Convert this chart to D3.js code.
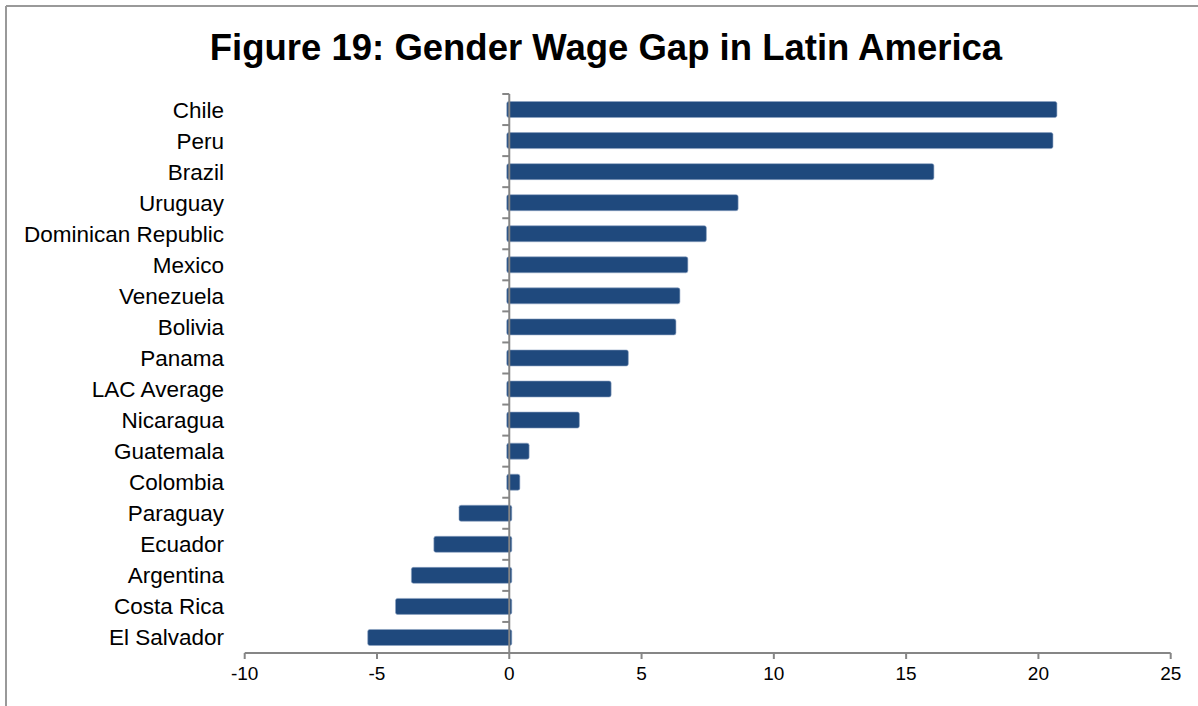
<!DOCTYPE html>
<html>
<head>
<meta charset="utf-8">
<script src="https://cdn.jsdelivr.net/npm/d3@7"></script>
<style>
  html, body { margin: 0; padding: 0; background: #fff; }
  svg { display: block; }
</style>
</head>
<body>
<svg id="chart" width="1198" height="706"></svg>
<script>
const title = "Figure 19: Gender Wage Gap in Latin America";
const categories = ["Chile", "Peru", "Brazil", "Uruguay", "Dominican Republic", "Mexico",
  "Venezuela", "Bolivia", "Panama", "LAC Average", "Nicaragua", "Guatemala", "Colombia",
  "Paraguay", "Ecuador", "Argentina", "Costa Rica", "El Salvador"];
const values = [20.7, 20.55, 16.05, 8.65, 7.45, 6.75, 6.45, 6.3, 4.5, 3.85, 2.65, 0.75, 0.4,
  -1.9, -2.85, -3.7, -4.3, -5.35];
const xTicks = [-10, -5, 0, 5, 10, 15, 20, 25];

const svg = d3.select("#chart");
const axisColor = "#868686";
const barColor = "#1F497D";
const fontFamily = "'Liberation Sans', Arial, sans-serif";

// outer frame (top and left visible)
svg.append("line").attr("x1", 6).attr("x2", 1198).attr("y1", 6).attr("y2", 6)
  .attr("stroke", "#999").attr("stroke-width", 2);
svg.append("line").attr("x1", 6).attr("x2", 6).attr("y1", 6).attr("y2", 706)
  .attr("stroke", "#999").attr("stroke-width", 2);

// title
svg.append("text")
  .attr("x", 606).attr("y", 60)
  .attr("text-anchor", "middle")
  .attr("font-family", fontFamily)
  .attr("font-weight", "bold")
  .attr("font-size", 36.5)
  .attr("fill", "#000")
  .text(title);

const x = d3.scaleLinear().domain([-10, 25]).range([244.7, 1170.7]);
const y = d3.scaleBand().domain(categories).range([94, 653])
  .paddingInner(0.485).paddingOuter(0.2425);

// bars (slightly overlap the zero line, as in the source)
const overlap = 2.5;
svg.append("g").selectAll("rect")
  .data(categories.map((c, i) => ({ c, v: values[i] })))
  .join("rect")
  .attr("x", d => x(Math.min(0, d.v)) - (d.v >= 0 ? overlap : 0))
  .attr("width", d => Math.abs(x(d.v) - x(0)) + overlap)
  .attr("y", d => y(d.c))
  .attr("height", y.bandwidth())
  .attr("rx", 2)
  .attr("fill", barColor)
  .attr("stroke", "#8da3c2")
  .attr("stroke-width", 0.6);

// x axis
const xAxisY = 653;
const xa = svg.append("g");
xa.append("line").attr("x1", x(-10)).attr("x2", x(25)).attr("y1", xAxisY).attr("y2", xAxisY)
  .attr("stroke", axisColor).attr("stroke-width", 2);
xa.selectAll("line.tick").data(xTicks).join("line").attr("class", "tick")
  .attr("x1", d => x(d)).attr("x2", d => x(d))
  .attr("y1", xAxisY).attr("y2", xAxisY + 6)
  .attr("stroke", axisColor).attr("stroke-width", 2);
xa.selectAll("text").data(xTicks).join("text")
  .attr("x", d => x(d)).attr("y", 680)
  .attr("text-anchor", "middle")
  .attr("font-family", fontFamily)
  .attr("font-size", 19)
  .attr("fill", "#000")
  .text(d => d);

// y axis at zero
const ya = svg.append("g");
const x0 = x(0);
ya.append("line").attr("x1", x0).attr("x2", x0).attr("y1", 94).attr("y2", xAxisY)
  .attr("stroke", axisColor).attr("stroke-width", 2);
const bounds = d3.range(categories.length + 1).map(i => 94 + i * y.step());
ya.selectAll("line.tick").data(bounds.slice(0, -1)).join("line").attr("class", "tick")
  .attr("x1", x0 - 7).attr("x2", x0)
  .attr("y1", d => d).attr("y2", d => d)
  .attr("stroke", axisColor).attr("stroke-width", 2);

// category labels
svg.append("g").selectAll("text").data(categories).join("text")
  .attr("x", 224)
  .attr("y", d => y(d) + y.bandwidth() / 2 + 8)
  .attr("text-anchor", "end")
  .attr("font-family", fontFamily)
  .attr("font-size", 22.5)
  .attr("fill", "#000")
  .text(d => d);
</script>
</body>
</html>
